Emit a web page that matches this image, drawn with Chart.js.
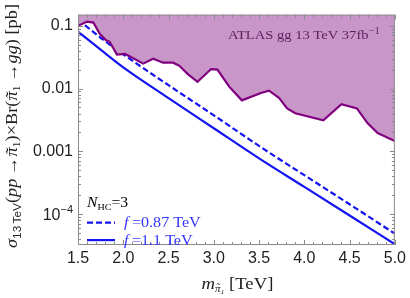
<!DOCTYPE html>
<html><head><meta charset="utf-8">
<script src="https://cdn.jsdelivr.net/npm/chart.js@4/dist/chart.umd.min.js"></script>
<style>html,body{margin:0;padding:0;background:#fff;}#wrap{width:410px;height:298px;position:relative;}</style>
</head><body><div id="wrap"><canvas id="c" width="410" height="298"></canvas></div>
<script>
// ---- data ----
const massGrid = [1.5, 1.75, 2.0, 2.5, 3.0, 3.5, 4.0, 4.5, 5.0];
const sigmaF110 = [0.0804, 0.0415, 0.0217, 0.00703, 0.00233, 0.000774, 0.000272, 0.0000953, 0.0000333];
const sigmaF087 = [0.1256, 0.0642, 0.0350, 0.0113, 0.00375, 0.00122, 0.000418, 0.000144, 0.0000490];
const atlasMass = [1.50, 1.60, 1.67, 1.74, 1.81, 1.85, 1.93, 2.02, 2.10, 2.22, 2.33, 2.44, 2.55, 2.62, 2.71, 2.82, 2.97, 3.04, 3.17, 3.31, 3.52, 3.61, 3.72, 3.81, 3.90, 4.21, 4.41, 4.58, 4.70, 4.81, 5.00];
const atlasLimit = [0.0993, 0.116, 0.112, 0.0741, 0.0586, 0.0554, 0.0346, 0.0355, 0.0308, 0.0249, 0.0297, 0.0258, 0.0258, 0.0230, 0.0171, 0.0128, 0.0204, 0.0200, 0.0107, 0.00648, 0.00848, 0.00923, 0.00711, 0.00483, 0.00405, 0.00313, 0.00564, 0.00483, 0.00279, 0.00196, 0.00146];
const xTickValues = [1.5, 2.0, 2.5, 3.0, 3.5, 4.0, 4.5, 5.0];
const yTickValues = [1e-4, 1e-3, 1e-2, 1e-1];
const yTickLabels = ['10^-4', '0.001', '0.01', '0.1'];
const legendHeader = {main: 'N', sub: 'HC', rest: '=3'};
const seriesLabels = ['0.87 TeV', '1.1 TeV'];
const atlasLabel = 'ATLAS gg 13 TeV 37fb';

const BLUE = '#1414f0';
const BLUE_TXT = '#3333ff';
const PURPLE = '#800080';
const PURPLE_FILL = 'rgb(201,150,201)';
const FRAME = '#8c8c8c';
const SERIF = '"Liberation Serif", "DejaVu Serif", serif';
const SANS = '"Liberation Sans", Arial, sans-serif';

function toXY(xs, ys){ return xs.map((v,i)=>({x:v, y:ys[i]})); }

function measureRuns(ctx, runs){
  let w = 0;
  for (const r of runs){ ctx.font = r.f; w += ctx.measureText(r.t).width + (r.sp||0); }
  return w;
}
function drawRuns(ctx, runs, x, y, color, sx){
  ctx.save();
  ctx.translate(x, y);
  ctx.scale(sx||1, 1);
  ctx.textBaseline = 'alphabetic';
  ctx.textAlign = 'left';
  let cx = 0;
  for (const r of runs){
    ctx.font = r.f;
    ctx.fillStyle = r.c || color;
    ctx.fillText(r.t, cx, r.dy||0);
    const w = ctx.measureText(r.t).width;
    if (r.tilde){
      ctx.font = r.tf || r.f;
      const tw = ctx.measureText('\u02DC').width;
      ctx.fillText('\u02DC', cx + (w - tw)/2 + (r.tx||0), (r.dy||0) + (r.ty||0));
    }
    cx += w + (r.sp||0);
  }
  ctx.restore();
  return cx;
}

const framePlugin = {
  id: 'frame',
  afterDatasetsDraw(chart){
    const {ctx, chartArea: a} = chart;
    const xs = chart.scales.x, ys = chart.scales.y;
    ctx.save();
    ctx.strokeStyle = FRAME;
    ctx.lineWidth = 1;
    ctx.strokeRect(a.left + 0.5, a.top + 0.5, a.right - a.left - 1, a.bottom - a.top - 1);
    ctx.beginPath();
    for (let i = 15; i <= 50; i++){
      const px = Math.round(xs.getPixelForValue(i/10)) + 0.5;
      const L = (i % 5 === 0) ? 5 : 3;
      ctx.moveTo(px, a.bottom); ctx.lineTo(px, a.bottom - L);
      ctx.moveTo(px, a.top); ctx.lineTo(px, a.top + L);
    }
    for (let d = -5; d <= 0; d++){
      for (let k = 1; k <= 9; k++){
        const v = k * Math.pow(10, d);
        if (v < ys.min || v > ys.max) continue;
        const py = Math.round(ys.getPixelForValue(v)) + 0.5;
        const L = (k === 1) ? 5 : 3;
        ctx.moveTo(a.left, py); ctx.lineTo(a.left + L, py);
        ctx.moveTo(a.right, py); ctx.lineTo(a.right - L, py);
      }
    }
    ctx.stroke();
    ctx.restore();

    // 10^-4 tick label with real superscript
    const p4 = ys.getPixelForValue(yTickValues[0]);
    const parts = yTickLabels[0].split('^');
    const supRuns = [
      {t: parts[0], f: '16px ' + SANS},
      {t: parts[1].replace('-', '\u2212'), f: '11px ' + SANS, dy: -7}
    ];
    const w4 = measureRuns(ctx, supRuns);
    drawRuns(ctx, supRuns, a.left - 5 - w4, p4 + 6, '#222', 1);

    // ATLAS label
    drawRuns(ctx, [
      {t: atlasLabel, f: '13px ' + SERIF},
      {t: '\u22121', f: '9.5px ' + SERIF, dy: -5.5}
    ], a.left + 150, a.top + 24.5, '#5a1e5a', 1.12);

    // legend header
    const lx = a.left + 9;
    drawRuns(ctx, [
      {t: legendHeader.main, f: 'italic 14px ' + SERIF},
      {t: legendHeader.sub, f: '9px ' + SERIF, dy: 3},
      {t: legendHeader.rest, f: '14px ' + SERIF}
    ], lx, a.top + 192, '#000', 1.12);

    // legend samples
    ctx.save();
    ctx.strokeStyle = BLUE; ctx.lineWidth = 2.2;
    ctx.setLineDash([6, 3]);
    ctx.beginPath(); ctx.moveTo(lx, a.top + 208); ctx.lineTo(lx + 28, a.top + 208); ctx.stroke();
    ctx.setLineDash([]);
    ctx.beginPath(); ctx.moveTo(lx, a.top + 225.5); ctx.lineTo(lx + 28, a.top + 225.5); ctx.stroke();
    ctx.restore();
    drawRuns(ctx, [
      {t: 'f', f: 'italic 14px ' + SERIF, sp: 3},
      {t: '=' + seriesLabels[0], f: '14px ' + SERIF}
    ], lx + 37, a.top + 212, BLUE_TXT, 1.15);
    drawRuns(ctx, [
      {t: 'f', f: 'italic 14px ' + SERIF, sp: 3},
      {t: '=' + seriesLabels[1], f: '14px ' + SERIF}
    ], lx + 37, a.top + 230, BLUE_TXT, 1.15);

    // x title
    const xt = [
      {t: 'm', f: 'italic 17px ' + SERIF},
      {t: '\u03C0', f: 'italic 10px ' + SERIF, dy: 3, tilde: true, ty: -1},
      {t: '1', f: 'italic 7px ' + SERIF, dy: 5},
      {t: ' [TeV]', f: '17px ' + SERIF}
    ];
    const xw = measureRuns(ctx, xt) * 1.1;
    drawRuns(ctx, xt, (a.left + a.right)/2 - xw/2 + 1, 289, '#222', 1.1);

    // y title (rotated)
    const F = 17;
    const yt = [
      {t: '\u03C3', f: 'italic ' + F + 'px ' + SERIF},
      {t: '13\u2009TeV', f: '11px ' + SANS, dy: 4},
      {t: '(', f: F + 'px ' + SERIF},
      {t: 'pp', f: 'italic ' + F + 'px ' + SERIF},
      {t: '\u2009\u2192', f: F + 'px ' + SERIF},
      {t: '\u03C0', f: 'italic ' + F + 'px ' + SERIF, tilde: true},
      {t: '1', f: '11px ' + SERIF, dy: 3},
      {t: ')\u00D7Br(', f: F + 'px ' + SERIF},
      {t: '\u03C0', f: 'italic ' + F + 'px ' + SERIF, tilde: true},
      {t: '1', f: '11px ' + SERIF, dy: 3},
      {t: '\u2009\u2192', f: F + 'px ' + SERIF},
      {t: 'gg', f: 'italic ' + F + 'px ' + SERIF},
      {t: ') [pb]', f: F + 'px ' + SERIF}
    ];
    const yw = measureRuns(ctx, yt);
    const sc = 244 / yw;
    ctx.save();
    ctx.translate(17, 126);
    ctx.rotate(-Math.PI/2);
    drawRuns(ctx, yt, -yw*sc/2, 0, '#222', sc);
    ctx.restore();
  }
};

new Chart(document.getElementById('c'), {
  type: 'line',
  data: {
    datasets: [
      {
        label: 'ATLAS gg 13 TeV 37 fb-1',
        data: toXY(atlasMass, atlasLimit),
        borderColor: PURPLE, borderWidth: 2.2,
        backgroundColor: PURPLE_FILL,
        fill: 'end', pointRadius: 0, tension: 0
      },
      {
        label: 'f = 0.87 TeV',
        data: toXY(massGrid, sigmaF087),
        borderColor: BLUE, borderWidth: 2.2, borderDash: [6, 3],
        fill: false, pointRadius: 0, cubicInterpolationMode: 'monotone'
      },
      {
        label: 'f = 1.1 TeV',
        data: toXY(massGrid, sigmaF110),
        borderColor: BLUE, borderWidth: 2.2,
        fill: false, pointRadius: 0, cubicInterpolationMode: 'monotone'
      }
    ]
  },
  options: {
    responsive: false,
    animation: false,
    devicePixelRatio: 1,
    layout: { padding: { left: 0, right: 13, top: 5, bottom: 0 } },
    plugins: { legend: { display: false }, tooltip: { enabled: false } },
    scales: {
      x: {
        type: 'linear', min: 1.5, max: 5.0,
        grid: { display: false, drawTicks: false },
        border: { display: false },
        afterBuildTicks: s => { s.ticks = xTickValues.map(v => ({value: v})); },
        afterFit: s => { s.height = 53; },
        ticks: {
          padding: 4, maxRotation: 0, autoSkip: false,
          color: '#222', font: { family: SANS, size: 16 },
          callback: v => Number(v).toFixed(1)
        }
      },
      y: {
        type: 'logarithmic', min: 3.24e-5, max: 0.150,
        grid: { display: false, drawTicks: false },
        border: { display: false },
        afterBuildTicks: s => { s.ticks = yTickValues.map(v => ({value: v})); },
        afterFit: s => { s.width = 78; },
        ticks: {
          padding: 5, autoSkip: false,
          color: '#222', font: { family: SANS, size: 16 },
          callback: (v, i) => (yTickLabels[i].indexOf('^') >= 0 ? '' : yTickLabels[i])
        }
      }
    }
  },
  plugins: [framePlugin]
});
</script>
</body></html>
